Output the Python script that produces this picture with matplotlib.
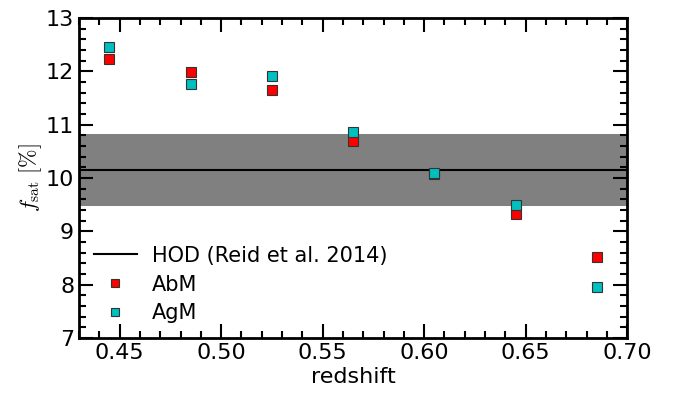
import numpy as np
from matplotlib import pyplot as plt
from matplotlib.ticker import MultipleLocator

plt.rcParams['mathtext.fontset'] = 'cm'

# Data
redshift = [0.445, 0.485, 0.525, 0.565, 0.605, 0.645, 0.685]
fsat_abm = [12.23, 11.98, 11.64, 10.70, 10.08, 9.33, 8.51]
fsat_agm = [12.46, 11.76, 11.91, 10.86, 10.10, 9.49, 7.96]
hod_mean = 10.15
hod_low, hod_high = 9.48, 10.83

fig = plt.figure(figsize=(6.81, 3.97), dpi=100)
ax = fig.add_axes([0.116, 0.149, 0.805, 0.806])

ax.axhspan(hod_low, hod_high, facecolor='gray', edgecolor='none', zorder=1)
ax.axhline(hod_mean, color='k', lw=1.5, zorder=2, label='HOD (Reid et al. 2014)')
ax.plot(redshift, fsat_abm, 's', color='red', mec='#333333', mew=0.8, ms=7,
        zorder=3, label='AbM')
ax.plot(redshift, fsat_agm, 's', color='c', mec='#333333', mew=0.8, ms=7,
        zorder=4, label='AgM')

ax.set_xlim(0.43, 0.70)
ax.set_ylim(7, 13)
ax.xaxis.set_major_locator(MultipleLocator(0.05))
ax.xaxis.set_minor_locator(MultipleLocator(0.01))
ax.yaxis.set_major_locator(MultipleLocator(1))
ax.yaxis.set_minor_locator(MultipleLocator(0.2))
ax.set_xticklabels(['%.2f' % v for v in ax.get_xticks()])

ax.tick_params(which='both', direction='in', top=True, right=True,
               labelsize=16, width=1.5)
ax.tick_params(which='major', length=10)
ax.tick_params(which='minor', length=5)
for s in ax.spines.values():
    s.set_linewidth(2)

ax.set_xlabel('redshift', fontsize=16, labelpad=3)
ax.set_ylabel(r'$f_{\rm sat}\ [\%]$', fontsize=16, labelpad=1)

ax.legend(loc='lower left', frameon=False, numpoints=1, fontsize=15,
          handlelength=2.1, handletextpad=0.7, markerscale=0.75,
          borderaxespad=0.3, labelspacing=0.42, borderpad=0.4)

plt.savefig('out.png', dpi=100)
